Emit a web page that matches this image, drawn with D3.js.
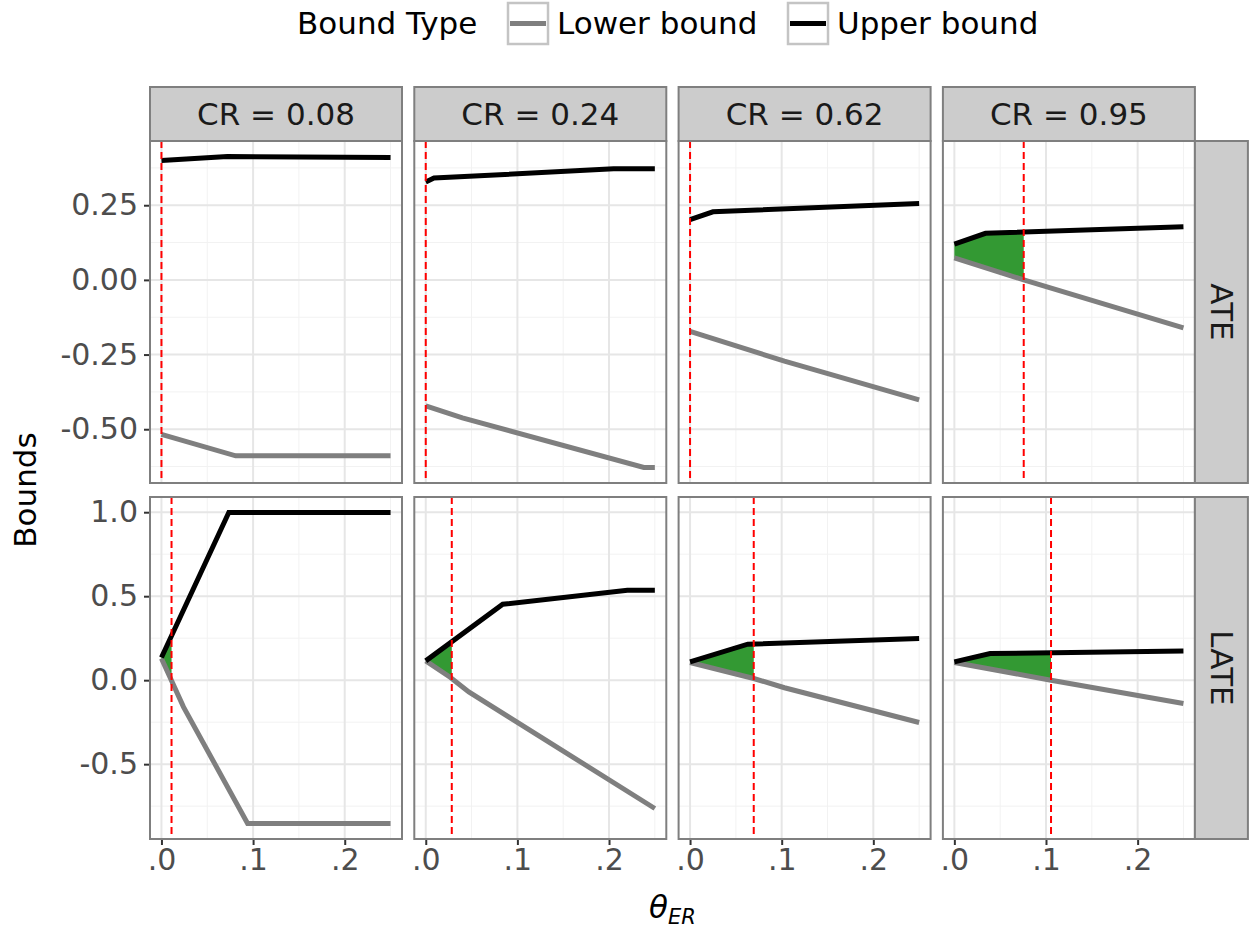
<!DOCTYPE html>
<html>
<head>
<meta charset="utf-8">
<script src="https://cdn.jsdelivr.net/npm/d3@7"></script>
<style>
  body { margin: 0; background: #fff; }
  text { font-family: "DejaVu Sans", sans-serif; }
</style>
</head>
<body>
<div id="chart-area"></div>
<script>
// facet levels
const crLevels = ["0.08", "0.24", "0.62", "0.95"]
const estimands = ["ATE", "LATE"]

// bounds per CR level, as [theta_ER, bound] points
const ateUpper = [
    [[0, 0.400], [0.072, 0.413], [0.25, 0.410]],
    [[0, 0.328], [0.009, 0.341], [0.205, 0.372], [0.25, 0.372]],
    [[0, 0.202], [0.025, 0.228], [0.25, 0.256]],
    [[0, 0.120], [0.034, 0.156], [0.25, 0.178]]
]
const ateLower = [
    [[0, -0.517], [0.081, -0.589], [0.25, -0.589]],
    [[0, -0.422], [0.04, -0.462], [0.238, -0.628], [0.25, -0.628]],
    [[0, -0.172], [0.103, -0.272], [0.25, -0.402]],
    [[0, 0.074], [0.0757, 0.0], [0.25, -0.161]]
]
const lateUpper = [
    [[0, 0.135], [0.0735, 0.998], [0.25, 0.998]],
    [[0, 0.115], [0.084, 0.452], [0.22, 0.536], [0.25, 0.536]],
    [[0, 0.109], [0.063, 0.214], [0.25, 0.248]],
    [[0, 0.109], [0.039, 0.159], [0.25, 0.173]]
]
const lateLower = [
    [[0, 0.129], [0.024, -0.159], [0.094, -0.853], [0.25, -0.853]],
    [[0, 0.115], [0.027, 0.016], [0.047, -0.070], [0.25, -0.764]],
    [[0, 0.105], [0.0695, 0.010], [0.103, -0.045], [0.25, -0.252]],
    [[0, 0.105], [0.1055, 0.0], [0.25, -0.139]]
]

// breakdown point (red dashed line)
const ateCutoff = [0, 0, 0, 0.0757]
const lateCutoff = [0.011, 0.0284, 0.0695, 0.1055]

// tick labels
const xTicks = [0, 0.1, 0.2]
const xTickLabels = [".0", ".1", ".2"]
const ateTicks = [-0.5, -0.25, 0, 0.25]
const ateTickLabels = ["-0.50", "-0.25", "0.00", "0.25"]
const lateTicks = [-0.5, 0, 0.5, 1.0]
const lateTickLabels = ["-0.5", "0.0", "0.5", "1.0"]

const legendLabels = ["Lower bound", "Upper bound"]
const legendColors = ["#7f7f7f", "#000000"]

const WIDTH = 1252
const HEIGHT = 931
const PANEL = { LEFT: 150, TOP: 141, W: 252, H: 342, STEP_X: 264.3, STEP_Y: 356 }
const STRIP = 54
const BIG = "31px"
const TICK = "30px"
const LINE_W = 5

const svg = d3.select("#chart-area").append("svg")
    .attr("width", WIDTH)
    .attr("height", HEIGHT)

// x range 0..0.25 with ggplot-style 5% expansion
const xDom = [0 - 0.0125, 0.25 + 0.0125]

function expand(ext) {
    const pad = (ext[1] - ext[0]) * 0.05
    return [ext[0] - pad, ext[1] + pad]
}
const ateExt = d3.extent([...ateUpper.flat(), ...ateLower.flat()], d => d[1])
const lateExt = d3.extent([...lateUpper.flat(), ...lateLower.flat()], d => d[1])

const rows = [
    { name: "ATE", upper: ateUpper, lower: ateLower, cut: ateCutoff, dom: expand(ateExt), ticks: ateTicks, labels: ateTickLabels },
    { name: "LATE", upper: lateUpper, lower: lateLower, cut: lateCutoff, dom: expand(lateExt), ticks: lateTicks, labels: lateTickLabels }
]

// linear interpolation along a polyline
function interp(pts, x) {
    for (let i = 1; i < pts.length; i++) {
        if (x <= pts[i][0]) {
            const [x0, y0] = pts[i - 1], [x1, y1] = pts[i]
            return y0 + (y1 - y0) * (x - x0) / (x1 - x0)
        }
    }
    return pts[pts.length - 1][1]
}

rows.forEach((row, r) => {
    const top = PANEL.TOP + r * PANEL.STEP_Y
    const y = d3.scaleLinear().domain(row.dom).range([top + PANEL.H, top])

    // minor breaks between majors
    const step = row.ticks[1] - row.ticks[0]
    const minorY = d3.range(row.ticks[0] - step / 2, row.dom[1], step).filter(v => v > row.dom[0])

    crLevels.forEach((cr, c) => {
        const left = PANEL.LEFT + c * PANEL.STEP_X
        const x = d3.scaleLinear().domain(xDom).range([left, left + PANEL.W])
        const g = svg.append("g")

        g.append("rect")
            .attr("x", left).attr("y", top)
            .attr("width", PANEL.W).attr("height", PANEL.H)
            .attr("fill", "#fff")

        // grid
        const minorX = [0.05, 0.15, 0.25]
        g.selectAll(".minx").data(minorX).join("line")
            .attr("x1", d => x(d)).attr("x2", d => x(d))
            .attr("y1", top).attr("y2", top + PANEL.H)
            .attr("stroke", "#f2f2f2").attr("stroke-width", 1)
        g.selectAll(".miny").data(minorY).join("line")
            .attr("x1", left).attr("x2", left + PANEL.W)
            .attr("y1", d => y(d)).attr("y2", d => y(d))
            .attr("stroke", "#f2f2f2").attr("stroke-width", 1)
        g.selectAll(".majx").data(xTicks).join("line")
            .attr("x1", d => x(d)).attr("x2", d => x(d))
            .attr("y1", top).attr("y2", top + PANEL.H)
            .attr("stroke", "#e6e6e6").attr("stroke-width", 2)
        g.selectAll(".majy").data(row.ticks).join("line")
            .attr("x1", left).attr("x2", left + PANEL.W)
            .attr("y1", d => y(d)).attr("y2", d => y(d))
            .attr("stroke", "#e6e6e6").attr("stroke-width", 2)

        // green region where lower bound stays above zero
        const cut = row.cut[c]
        if (cut > 0) {
            const up = row.upper[c], lo = row.lower[c]
            const xs = Array.from(new Set([0, ...up.map(d => d[0]), ...lo.map(d => d[0]), cut]))
                .filter(v => v <= cut).sort((a, b) => a - b)
            const area = d3.area()
                .x(d => x(d))
                .y0(d => y(interp(lo, d)))
                .y1(d => y(interp(up, d)))
            g.append("path")
                .attr("d", area(xs))
                .attr("fill", "#339933")
        }

        const line = d3.line().x(d => x(d[0])).y(d => y(d[1]))
        g.append("path")
            .attr("d", line(row.lower[c]))
            .attr("fill", "none")
            .attr("stroke", legendColors[0])
            .attr("stroke-width", LINE_W)
        g.append("path")
            .attr("d", line(row.upper[c]))
            .attr("fill", "none")
            .attr("stroke", legendColors[1])
            .attr("stroke-width", LINE_W)

        g.append("line")
            .attr("x1", x(cut)).attr("x2", x(cut))
            .attr("y1", top).attr("y2", top + PANEL.H)
            .attr("stroke", "#ff0000")
            .attr("stroke-width", 2)
            .attr("stroke-dasharray", "7,4")

        g.append("rect")
            .attr("x", left).attr("y", top)
            .attr("width", PANEL.W).attr("height", PANEL.H)
            .attr("fill", "none")
            .attr("stroke", "#7f7f7f").attr("stroke-width", 2)

        // column strip on top row
        if (r === 0) {
            g.append("rect")
                .attr("x", left).attr("y", top - STRIP)
                .attr("width", PANEL.W).attr("height", STRIP)
                .attr("fill", "#cccccc")
                .attr("stroke", "#7f7f7f").attr("stroke-width", 2)
            g.append("text")
                .attr("x", left + PANEL.W / 2)
                .attr("y", top - STRIP / 2)
                .attr("text-anchor", "middle")
                .attr("dominant-baseline", "central")
                .attr("font-size", BIG)
                .attr("fill", "#1a1a1a")
                .text(`CR = ${cr}`)
        }

        // row strip on last column
        if (c === crLevels.length - 1) {
            const sx = left + PANEL.W
            g.append("rect")
                .attr("x", sx).attr("y", top)
                .attr("width", STRIP - 1).attr("height", PANEL.H)
                .attr("fill", "#cccccc")
                .attr("stroke", "#7f7f7f").attr("stroke-width", 2)
            g.append("text")
                .attr("transform", `translate(${sx + STRIP / 2}, ${top + PANEL.H / 2}) rotate(90)`)
                .attr("text-anchor", "middle")
                .attr("dominant-baseline", "central")
                .attr("font-size", BIG)
                .attr("fill", "#1a1a1a")
                .text(row.name)
        }

        // y axis on first column
        if (c === 0) {
            const yAxis = d3.axisLeft(y)
                .tickValues(row.ticks)
                .tickFormat((d, i) => row.labels[i])
                .tickSize(5)
                .tickPadding(6)
            const ag = svg.append("g")
                .attr("transform", `translate(${left - 1}, 0)`)
                .call(yAxis)
            ag.select(".domain").remove()
            ag.selectAll(".tick line").attr("stroke", "#333333").attr("stroke-width", 2)
            ag.selectAll(".tick text")
                .attr("font-family", "DejaVu Sans")
                .attr("font-size", TICK)
                .attr("fill", "#4d4d4d")
        }

        // x axis on bottom row
        if (r === rows.length - 1) {
            const xAxis = d3.axisBottom(x)
                .tickValues(xTicks)
                .tickFormat((d, i) => xTickLabels[i])
                .tickSize(5)
                .tickPadding(4)
            const ag = svg.append("g")
                .attr("transform", `translate(0, ${top + PANEL.H + 1})`)
                .call(xAxis)
            ag.select(".domain").remove()
            ag.selectAll(".tick line").attr("stroke", "#333333").attr("stroke-width", 2)
            ag.selectAll(".tick text")
                .attr("font-family", "DejaVu Sans")
                .attr("font-size", TICK)
                .attr("fill", "#4d4d4d")
        }
    })
})

// axis titles
const panelsRight = PANEL.LEFT + 3 * PANEL.STEP_X + PANEL.W
svg.append("text")
    .attr("transform", `translate(25, ${(PANEL.TOP + PANEL.TOP + PANEL.STEP_Y + PANEL.H) / 2}) rotate(-90)`)
    .attr("text-anchor", "middle")
    .attr("dominant-baseline", "central")
    .attr("font-size", BIG)
    .attr("fill", "#000")
    .text("Bounds")

const xt = svg.append("text")
    .attr("x", (PANEL.LEFT + panelsRight) / 2)
    .attr("y", 918)
    .attr("text-anchor", "middle")
    .attr("font-size", BIG)
    .attr("fill", "#000")
xt.append("tspan").attr("font-style", "italic").text("θ")
xt.append("tspan").attr("font-style", "italic").attr("font-size", "21px").attr("dy", 6).text("ER")

// legend
const legend = svg.append("g")
legend.append("text")
    .attr("x", 297).attr("y", 23)
    .attr("dominant-baseline", "central")
    .attr("font-size", BIG)
    .text("Bound Type")
const keyX = [508, 788]
legendLabels.forEach((lab, i) => {
    legend.append("rect")
        .attr("x", keyX[i]).attr("y", 3)
        .attr("width", 40).attr("height", 41)
        .attr("fill", "#fff")
        .attr("stroke", "#c4c4c4").attr("stroke-width", 2.5)
    legend.append("line")
        .attr("x1", keyX[i] + 2).attr("x2", keyX[i] + 38)
        .attr("y1", 23.5).attr("y2", 23.5)
        .attr("stroke", legendColors[i]).attr("stroke-width", LINE_W)
    legend.append("text")
        .attr("x", keyX[i] + 49).attr("y", 23)
        .attr("dominant-baseline", "central")
        .attr("font-size", BIG)
        .text(lab)
})
</script>
</body>
</html>
